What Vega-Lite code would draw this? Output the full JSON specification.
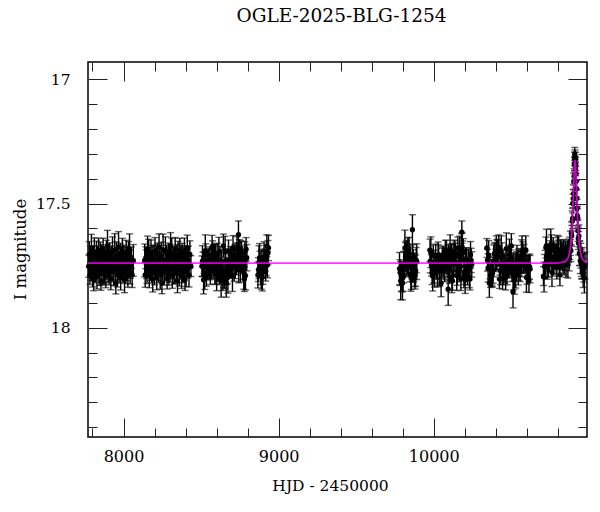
{
"$schema": "https://vega.github.io/schema/vega-lite/v6.json",
"width": 499, "height": 375,
"autosize": {"type": "none"},
"padding": {"left": 88, "top": 62, "right": 13, "bottom": 75},
"background": "white",
"title": {"text": "OGLE-2025-BLG-1254", "font": "DejaVu Serif", "fontSize": 18.5, "fontWeight": "normal", "color": "black", "frame": "group", "anchor": "middle", "baseline": "alphabetic", "offset": 21, "dx": 4},
"config": {"view": {"stroke": "black", "strokeWidth": 1.5}, "axis": {"domain": false, "grid": false, "tickColor": "#222", "tickWidth": 1, "labelFont": "DejaVu Serif", "labelColor": "black", "titleFont": "DejaVu Serif", "titleColor": "black", "titleFontWeight": "normal"}},
"resolve": {"axis": {"x": "independent", "y": "independent"}},
"datasets": {
"obs": [
{"t":7776.2,"m":17.752,"e":0.045},{"t":7779.1,"m":17.705,"e":0.052},{"t":7783.4,"m":17.788,"e":0.038},{"t":7786.0,"m":17.732,"e":0.060},{"t":7790.3,"m":17.762,"e":0.048},{"t":7793.1,"m":17.679,"e":0.055},{"t":7797.6,"m":17.745,"e":0.042},{"t":7800.2,"m":17.770,"e":0.066},{"t":7804.5,"m":17.721,"e":0.050},{"t":7807.3,"m":17.807,"e":0.044},
{"t":7811.8,"m":17.696,"e":0.058},{"t":7814.4,"m":17.755,"e":0.047},{"t":7818.0,"m":17.738,"e":0.053},{"t":7821.7,"m":17.778,"e":0.041},{"t":7825.2,"m":17.713,"e":0.062},{"t":7828.9,"m":17.795,"e":0.049},{"t":7832.1,"m":17.728,"e":0.057},{"t":7836.5,"m":17.749,"e":0.043},{"t":7839.3,"m":17.690,"e":0.051},{"t":7843.0,"m":17.766,"e":0.064},
{"t":7846.8,"m":17.743,"e":0.045},{"t":7850.1,"m":17.707,"e":0.052},{"t":7854.4,"m":17.811,"e":0.038},{"t":7857.2,"m":17.725,"e":0.060},{"t":7861.0,"m":17.781,"e":0.048},{"t":7864.6,"m":17.734,"e":0.055},{"t":7868.3,"m":17.682,"e":0.042},{"t":7871.5,"m":17.759,"e":0.066},{"t":7875.9,"m":17.773,"e":0.050},{"t":7878.4,"m":17.716,"e":0.044},
{"t":7882.7,"m":17.747,"e":0.058},{"t":7886.1,"m":17.792,"e":0.047},{"t":7889.5,"m":17.701,"e":0.053},{"t":7893.2,"m":17.754,"e":0.041},{"t":7896.8,"m":17.670,"e":0.062},{"t":7900.4,"m":17.768,"e":0.049},{"t":7903.9,"m":17.736,"e":0.057},{"t":7907.1,"m":17.785,"e":0.043},{"t":7911.6,"m":17.709,"e":0.051},{"t":7914.3,"m":17.750,"e":0.064},
{"t":7918.2,"m":17.802,"e":0.045},{"t":7921.7,"m":17.723,"e":0.052},{"t":7925.0,"m":17.741,"e":0.038},{"t":7928.8,"m":17.694,"e":0.060},{"t":7932.3,"m":17.764,"e":0.048},{"t":7935.6,"m":17.776,"e":0.055},{"t":7939.4,"m":17.731,"e":0.042},{"t":7942.9,"m":17.687,"e":0.066},{"t":7946.1,"m":17.758,"e":0.050},{"t":7950.5,"m":17.820,"e":0.044},
{"t":7953.2,"m":17.712,"e":0.058},{"t":7957.0,"m":17.746,"e":0.047},{"t":7960.6,"m":17.783,"e":0.053},{"t":7964.1,"m":17.719,"e":0.041},{"t":7967.8,"m":17.675,"e":0.062},{"t":7971.3,"m":17.771,"e":0.049},{"t":7974.7,"m":17.751,"e":0.057},{"t":7978.5,"m":17.703,"e":0.043},{"t":7981.9,"m":17.797,"e":0.051},{"t":7985.2,"m":17.737,"e":0.064},
{"t":7989.0,"m":17.760,"e":0.045},{"t":7992.4,"m":17.692,"e":0.052},{"t":7996.1,"m":17.779,"e":0.038},{"t":7999.5,"m":17.727,"e":0.060},{"t":8003.2,"m":17.742,"e":0.048},{"t":8006.7,"m":17.804,"e":0.055},{"t":8010.1,"m":17.714,"e":0.042},{"t":8013.8,"m":17.756,"e":0.066},{"t":8017.4,"m":17.698,"e":0.050},{"t":8020.9,"m":17.767,"e":0.044},
{"t":8024.3,"m":17.733,"e":0.058},{"t":8028.0,"m":17.790,"e":0.047},{"t":8031.6,"m":17.706,"e":0.053},{"t":8035.2,"m":17.753,"e":0.041},{"t":8038.7,"m":17.684,"e":0.062},{"t":8042.5,"m":17.775,"e":0.049},{"t":8046.0,"m":17.744,"e":0.057},{"t":8050.3,"m":17.718,"e":0.043},{"t":8055.6,"m":17.787,"e":0.051},{"t":8063.1,"m":17.729,"e":0.064},
{"t":8136.4,"m":17.729,"e":0.066},{"t":8139.8,"m":17.787,"e":0.050},{"t":8143.9,"m":17.718,"e":0.044},{"t":8147.5,"m":17.744,"e":0.058},{"t":8151.2,"m":17.775,"e":0.047},{"t":8155.0,"m":17.684,"e":0.053},{"t":8158.6,"m":17.753,"e":0.041},{"t":8162.3,"m":17.706,"e":0.062},{"t":8166.1,"m":17.790,"e":0.049},{"t":8169.7,"m":17.733,"e":0.057},
{"t":8173.6,"m":17.767,"e":0.043},{"t":8177.2,"m":17.698,"e":0.051},{"t":8181.0,"m":17.756,"e":0.064},{"t":8184.5,"m":17.714,"e":0.045},{"t":8188.3,"m":17.804,"e":0.052},{"t":8192.1,"m":17.742,"e":0.038},{"t":8195.8,"m":17.727,"e":0.060},{"t":8199.4,"m":17.779,"e":0.048},{"t":8203.2,"m":17.692,"e":0.055},{"t":8206.9,"m":17.760,"e":0.042},
{"t":8210.7,"m":17.737,"e":0.066},{"t":8214.3,"m":17.797,"e":0.050},{"t":8218.0,"m":17.703,"e":0.044},{"t":8221.8,"m":17.751,"e":0.058},{"t":8225.5,"m":17.771,"e":0.047},{"t":8229.1,"m":17.675,"e":0.053},{"t":8232.9,"m":17.719,"e":0.041},{"t":8236.6,"m":17.783,"e":0.062},{"t":8240.4,"m":17.746,"e":0.049},{"t":8244.0,"m":17.712,"e":0.057},
{"t":8247.7,"m":17.820,"e":0.043},{"t":8251.5,"m":17.758,"e":0.051},{"t":8255.2,"m":17.687,"e":0.064},{"t":8258.9,"m":17.731,"e":0.045},{"t":8262.6,"m":17.776,"e":0.052},{"t":8266.3,"m":17.764,"e":0.038},{"t":8270.1,"m":17.694,"e":0.060},{"t":8273.8,"m":17.741,"e":0.048},{"t":8277.4,"m":17.723,"e":0.055},{"t":8281.2,"m":17.802,"e":0.042},
{"t":8285.0,"m":17.750,"e":0.066},{"t":8288.6,"m":17.709,"e":0.050},{"t":8292.3,"m":17.785,"e":0.044},{"t":8296.1,"m":17.736,"e":0.058},{"t":8299.8,"m":17.768,"e":0.047},{"t":8303.4,"m":17.670,"e":0.053},{"t":8307.2,"m":17.754,"e":0.041},{"t":8310.9,"m":17.701,"e":0.062},{"t":8314.7,"m":17.792,"e":0.049},{"t":8318.3,"m":17.747,"e":0.057},
{"t":8322.0,"m":17.716,"e":0.043},{"t":8325.8,"m":17.773,"e":0.051},{"t":8329.5,"m":17.759,"e":0.064},{"t":8333.1,"m":17.682,"e":0.045},{"t":8336.9,"m":17.734,"e":0.052},{"t":8340.6,"m":17.781,"e":0.038},{"t":8344.4,"m":17.725,"e":0.060},{"t":8348.0,"m":17.811,"e":0.048},{"t":8351.7,"m":17.707,"e":0.055},{"t":8355.5,"m":17.743,"e":0.042},
{"t":8359.2,"m":17.766,"e":0.066},{"t":8362.8,"m":17.690,"e":0.050},{"t":8366.6,"m":17.749,"e":0.044},{"t":8370.3,"m":17.728,"e":0.058},{"t":8374.1,"m":17.795,"e":0.047},{"t":8377.7,"m":17.713,"e":0.053},{"t":8381.4,"m":17.778,"e":0.041},{"t":8385.2,"m":17.738,"e":0.062},{"t":8388.9,"m":17.755,"e":0.049},{"t":8392.5,"m":17.696,"e":0.057},
{"t":8396.3,"m":17.807,"e":0.043},{"t":8400.0,"m":17.721,"e":0.051},{"t":8403.8,"m":17.770,"e":0.064},{"t":8407.4,"m":17.745,"e":0.045},{"t":8411.1,"m":17.679,"e":0.052},{"t":8414.9,"m":17.762,"e":0.038},{"t":8418.6,"m":17.732,"e":0.060},{"t":8422.2,"m":17.788,"e":0.048},{"t":8427.9,"m":17.705,"e":0.055},{"t":8434.5,"m":17.752,"e":0.042},
{"t":8505.3,"m":17.752,"e":0.041},{"t":8508.8,"m":17.732,"e":0.062},{"t":8512.6,"m":17.745,"e":0.049},{"t":8516.1,"m":17.807,"e":0.057},{"t":8519.9,"m":17.738,"e":0.043},{"t":8523.4,"m":17.795,"e":0.051},{"t":8527.1,"m":17.690,"e":0.064},{"t":8530.7,"m":17.707,"e":0.045},{"t":8534.4,"m":17.781,"e":0.052},{"t":8538.0,"m":17.759,"e":0.038},
{"t":8541.7,"m":17.747,"e":0.060},{"t":8545.3,"m":17.754,"e":0.048},{"t":8549.0,"m":17.736,"e":0.055},{"t":8552.6,"m":17.750,"e":0.042},{"t":8556.3,"m":17.741,"e":0.066},{"t":8559.9,"m":17.776,"e":0.050},{"t":8563.6,"m":17.758,"e":0.044},{"t":8567.2,"m":17.746,"e":0.058},{"t":8570.9,"m":17.675,"e":0.047},{"t":8574.5,"m":17.703,"e":0.053},
{"t":8578.2,"m":17.760,"e":0.041},{"t":8581.8,"m":17.727,"e":0.062},{"t":8585.5,"m":17.714,"e":0.049},{"t":8589.1,"m":17.767,"e":0.057},{"t":8592.8,"m":17.706,"e":0.043},{"t":8596.4,"m":17.775,"e":0.051},{"t":8600.1,"m":17.787,"e":0.064},{"t":8603.7,"m":17.705,"e":0.045},{"t":8607.4,"m":17.762,"e":0.052},{"t":8611.0,"m":17.770,"e":0.038},
{"t":8614.7,"m":17.696,"e":0.060},{"t":8618.3,"m":17.778,"e":0.048},{"t":8622.0,"m":17.728,"e":0.055},{"t":8625.6,"m":17.766,"e":0.042},{"t":8629.3,"m":17.811,"e":0.066},{"t":8632.9,"m":17.734,"e":0.050},{"t":8636.6,"m":17.773,"e":0.044},{"t":8640.2,"m":17.792,"e":0.058},{"t":8643.9,"m":17.670,"e":0.047},{"t":8647.5,"m":17.785,"e":0.053},
{"t":8651.2,"m":17.802,"e":0.041},{"t":8654.8,"m":17.694,"e":0.062},{"t":8658.5,"m":17.731,"e":0.049},{"t":8662.1,"m":17.820,"e":0.057},{"t":8665.8,"m":17.783,"e":0.043},{"t":8669.4,"m":17.771,"e":0.051},{"t":8673.1,"m":17.797,"e":0.064},{"t":8676.7,"m":17.692,"e":0.045},{"t":8680.4,"m":17.742,"e":0.052},{"t":8684.0,"m":17.756,"e":0.038},
{"t":8687.7,"m":17.733,"e":0.060},{"t":8691.3,"m":17.753,"e":0.048},{"t":8695.0,"m":17.744,"e":0.055},{"t":8698.6,"m":17.729,"e":0.042},{"t":8702.3,"m":17.788,"e":0.066},{"t":8705.9,"m":17.679,"e":0.050},{"t":8709.6,"m":17.721,"e":0.044},{"t":8713.2,"m":17.755,"e":0.058},{"t":8716.9,"m":17.713,"e":0.047},{"t":8720.5,"m":17.749,"e":0.053},
{"t":8724.2,"m":17.743,"e":0.041},{"t":8727.8,"m":17.725,"e":0.062},{"t":8731.5,"m":17.682,"e":0.049},{"t":8735.1,"m":17.716,"e":0.057},{"t":8738.8,"m":17.701,"e":0.043},{"t":8742.4,"m":17.768,"e":0.051},{"t":8746.1,"m":17.709,"e":0.064},{"t":8749.7,"m":17.723,"e":0.045},{"t":8753.4,"m":17.764,"e":0.052},{"t":8757.0,"m":17.687,"e":0.038},
{"t":8760.7,"m":17.712,"e":0.060},{"t":8764.3,"m":17.719,"e":0.048},{"t":8768.0,"m":17.751,"e":0.055},{"t":8771.6,"m":17.737,"e":0.042},{"t":8775.3,"m":17.779,"e":0.066},{"t":8778.9,"m":17.804,"e":0.050},{"t":8782.6,"m":17.698,"e":0.044},{"t":8786.2,"m":17.790,"e":0.058},{"t":8790.1,"m":17.684,"e":0.047},{"t":8794.6,"m":17.718,"e":0.053},
{"t":8741.0,"m":17.625,"e":0.055},
{"t":8866.2,"m":17.788,"e":0.052},{"t":8869.8,"m":17.766,"e":0.048},{"t":8873.5,"m":17.736,"e":0.066},{"t":8877.1,"m":17.719,"e":0.058},{"t":8880.6,"m":17.733,"e":0.041},{"t":8884.3,"m":17.770,"e":0.057},{"t":8887.9,"m":17.781,"e":0.064},{"t":8891.4,"m":17.723,"e":0.038},{"t":8895.0,"m":17.797,"e":0.055},{"t":8898.7,"m":17.775,"e":0.050},
{"t":8902.3,"m":17.738,"e":0.047},{"t":8905.8,"m":17.716,"e":0.062},{"t":8909.4,"m":17.731,"e":0.043},{"t":8913.1,"m":17.727,"e":0.045},{"t":8916.7,"m":17.752,"e":0.060},{"t":8920.2,"m":17.749,"e":0.042},{"t":8923.8,"m":17.670,"e":0.044},{"t":8927.5,"m":17.746,"e":0.053},{"t":8931.1,"m":17.698,"e":0.049},{"t":8934.6,"m":17.679,"e":0.051},
{"t":9779.4,"m":17.762,"e":0.065},{"t":9783.1,"m":17.778,"e":0.052},{"t":9787.0,"m":17.811,"e":0.076},{"t":9790.8,"m":17.792,"e":0.060},{"t":9794.7,"m":17.802,"e":0.054},{"t":9798.5,"m":17.820,"e":0.068},{"t":9802.4,"m":17.797,"e":0.057},{"t":9806.2,"m":17.756,"e":0.063},{"t":9810.1,"m":17.744,"e":0.051},{"t":9813.9,"m":17.679,"e":0.072},
{"t":9817.8,"m":17.713,"e":0.059},{"t":9821.6,"m":17.725,"e":0.067},{"t":9825.5,"m":17.701,"e":0.053},{"t":9829.3,"m":17.723,"e":0.061},{"t":9833.2,"m":17.712,"e":0.074},{"t":9837.0,"m":17.737,"e":0.055},{"t":9840.9,"m":17.698,"e":0.062},{"t":9844.7,"m":17.718,"e":0.048},{"t":9848.6,"m":17.745,"e":0.070},{"t":9852.4,"m":17.795,"e":0.058},
{"t":9856.3,"m":17.781,"e":0.065},{"t":9860.1,"m":17.754,"e":0.052},{"t":9864.0,"m":17.741,"e":0.076},{"t":9867.8,"m":17.746,"e":0.060},{"t":9871.7,"m":17.760,"e":0.054},{"t":9875.5,"m":17.767,"e":0.068},{"t":9879.4,"m":17.787,"e":0.057},{"t":9883.2,"m":17.770,"e":0.063},{"t":9887.1,"m":17.728,"e":0.051},{"t":9890.9,"m":17.734,"e":0.072},
{"t":9862.5,"m":17.605,"e":0.060},
{"t":9976.0,"m":17.688,"e":0.045},
{"t":9977.5,"m":17.732,"e":0.047},{"t":9981.4,"m":17.696,"e":0.062},{"t":9985.3,"m":17.749,"e":0.043},{"t":9989.1,"m":17.781,"e":0.045},{"t":9993.0,"m":17.792,"e":0.060},{"t":9996.9,"m":17.709,"e":0.042},{"t":10000.8,"m":17.776,"e":0.044},{"t":10004.6,"m":17.783,"e":0.053},{"t":10008.5,"m":17.737,"e":0.049},{"t":10012.4,"m":17.714,"e":0.051},
{"t":10016.3,"m":17.753,"e":0.052},{"t":10020.1,"m":17.752,"e":0.048},{"t":10024.0,"m":17.770,"e":0.066},{"t":10027.9,"m":17.713,"e":0.058},{"t":10031.8,"m":17.707,"e":0.041},{"t":10035.6,"m":17.773,"e":0.057},{"t":10039.5,"m":17.768,"e":0.064},{"t":10043.4,"m":17.741,"e":0.038},{"t":10047.3,"m":17.820,"e":0.055},{"t":10051.1,"m":17.751,"e":0.050},
{"t":10055.0,"m":17.727,"e":0.047},{"t":10058.9,"m":17.733,"e":0.062},{"t":10062.8,"m":17.718,"e":0.043},{"t":10066.6,"m":17.762,"e":0.045},{"t":10070.5,"m":17.755,"e":0.060},{"t":10074.4,"m":17.690,"e":0.042},{"t":10078.3,"m":17.734,"e":0.044},{"t":10082.1,"m":17.701,"e":0.053},{"t":10086.0,"m":17.750,"e":0.049},{"t":10089.9,"m":17.731,"e":0.051},
{"t":10093.8,"m":17.719,"e":0.052},{"t":10097.6,"m":17.760,"e":0.048},{"t":10101.5,"m":17.756,"e":0.066},{"t":10105.4,"m":17.684,"e":0.058},{"t":10109.3,"m":17.705,"e":0.041},{"t":10113.1,"m":17.721,"e":0.057},{"t":10117.0,"m":17.795,"e":0.064},{"t":10120.9,"m":17.811,"e":0.038},{"t":10124.8,"m":17.716,"e":0.055},{"t":10128.6,"m":17.736,"e":0.050},
{"t":10132.5,"m":17.694,"e":0.047},{"t":10136.4,"m":17.712,"e":0.062},{"t":10140.3,"m":17.703,"e":0.043},{"t":10144.1,"m":17.742,"e":0.045},{"t":10148.0,"m":17.790,"e":0.060},{"t":10151.9,"m":17.787,"e":0.042},{"t":10155.8,"m":17.679,"e":0.044},{"t":10159.6,"m":17.738,"e":0.053},{"t":10163.5,"m":17.766,"e":0.049},{"t":10167.4,"m":17.682,"e":0.051},
{"t":10171.3,"m":17.754,"e":0.052},{"t":10175.1,"m":17.802,"e":0.048},{"t":10179.0,"m":17.687,"e":0.066},{"t":10182.9,"m":17.675,"e":0.058},{"t":10186.8,"m":17.692,"e":0.041},{"t":10190.6,"m":17.698,"e":0.057},{"t":10194.5,"m":17.775,"e":0.064},{"t":10198.4,"m":17.788,"e":0.038},{"t":10202.3,"m":17.807,"e":0.055},{"t":10206.1,"m":17.728,"e":0.050},
{"t":10210.0,"m":17.725,"e":0.047},{"t":10213.9,"m":17.747,"e":0.062},{"t":10217.8,"m":17.785,"e":0.043},{"t":10221.6,"m":17.764,"e":0.045},{"t":10225.5,"m":17.746,"e":0.060},{"t":10229.4,"m":17.797,"e":0.042},{"t":10233.3,"m":17.804,"e":0.044},{"t":10237.1,"m":17.706,"e":0.053},{"t":10241.0,"m":17.729,"e":0.049},{"t":10244.9,"m":17.745,"e":0.051},
{"t":10181.0,"m":17.615,"e":0.045},{"t":10093.0,"m":17.845,"e":0.065},
{"t":10342.3,"m":17.679,"e":0.038},{"t":10346.4,"m":17.728,"e":0.044},{"t":10350.4,"m":17.759,"e":0.057},{"t":10354.5,"m":17.709,"e":0.060},{"t":10358.5,"m":17.820,"e":0.058},{"t":10362.6,"m":17.760,"e":0.043},{"t":10366.6,"m":17.790,"e":0.048},{"t":10370.7,"m":17.788,"e":0.047},{"t":10374.7,"m":17.778,"e":0.051},{"t":10378.8,"m":17.781,"e":0.055},
{"t":10382.8,"m":17.768,"e":0.053},{"t":10386.9,"m":17.731,"e":0.064},{"t":10390.9,"m":17.703,"e":0.042},{"t":10395.0,"m":17.698,"e":0.041},{"t":10399.0,"m":17.729,"e":0.045},{"t":10403.1,"m":17.696,"e":0.066},{"t":10407.1,"m":17.707,"e":0.062},{"t":10411.2,"m":17.701,"e":0.052},{"t":10415.2,"m":17.694,"e":0.050},{"t":10419.3,"m":17.675,"e":0.049},
{"t":10423.3,"m":17.804,"e":0.038},{"t":10427.4,"m":17.744,"e":0.044},{"t":10431.4,"m":17.770,"e":0.057},{"t":10435.5,"m":17.690,"e":0.060},{"t":10439.5,"m":17.716,"e":0.058},{"t":10443.6,"m":17.802,"e":0.043},{"t":10447.6,"m":17.746,"e":0.048},{"t":10451.7,"m":17.779,"e":0.047},{"t":10455.7,"m":17.753,"e":0.051},{"t":10459.8,"m":17.762,"e":0.055},
{"t":10463.8,"m":17.795,"e":0.053},{"t":10467.9,"m":17.682,"e":0.064},{"t":10471.9,"m":17.785,"e":0.042},{"t":10476.0,"m":17.758,"e":0.041},{"t":10480.0,"m":17.737,"e":0.045},{"t":10484.1,"m":17.733,"e":0.066},{"t":10488.1,"m":17.705,"e":0.062},{"t":10492.2,"m":17.738,"e":0.052},{"t":10496.2,"m":17.725,"e":0.050},{"t":10500.3,"m":17.670,"e":0.049},
{"t":10504.3,"m":17.776,"e":0.038},{"t":10508.4,"m":17.751,"e":0.044},{"t":10512.4,"m":17.756,"e":0.057},{"t":10516.5,"m":17.787,"e":0.060},{"t":10520.5,"m":17.807,"e":0.058},{"t":10524.6,"m":17.743,"e":0.043},{"t":10528.6,"m":17.792,"e":0.048},{"t":10532.7,"m":17.741,"e":0.047},{"t":10536.7,"m":17.719,"e":0.051},{"t":10540.8,"m":17.742,"e":0.055},
{"t":10544.8,"m":17.775,"e":0.053},{"t":10548.9,"m":17.745,"e":0.064},{"t":10552.9,"m":17.749,"e":0.042},{"t":10557.0,"m":17.773,"e":0.041},{"t":10561.0,"m":17.750,"e":0.045},{"t":10565.1,"m":17.712,"e":0.066},{"t":10569.1,"m":17.692,"e":0.062},{"t":10573.2,"m":17.706,"e":0.052},{"t":10577.2,"m":17.732,"e":0.050},{"t":10581.3,"m":17.713,"e":0.049},
{"t":10585.3,"m":17.734,"e":0.038},{"t":10589.4,"m":17.736,"e":0.044},{"t":10593.4,"m":17.687,"e":0.057},{"t":10597.5,"m":17.797,"e":0.060},{"t":10601.5,"m":17.767,"e":0.058},{"t":10605.6,"m":17.752,"e":0.043},{"t":10609.6,"m":17.755,"e":0.048},{"t":10613.7,"m":17.811,"e":0.047},{"t":10617.7,"m":17.754,"e":0.051},{"t":10621.0,"m":17.764,"e":0.055},
{"t":10511.0,"m":17.855,"e":0.065},
{"t":10707.2,"m":17.792,"e":0.038},{"t":10711.1,"m":17.796,"e":0.060},{"t":10715.0,"m":17.753,"e":0.048},{"t":10719.0,"m":17.743,"e":0.055},{"t":10722.9,"m":17.677,"e":0.042},{"t":10726.8,"m":17.669,"e":0.066},{"t":10730.8,"m":17.755,"e":0.050},{"t":10734.7,"m":17.728,"e":0.044},{"t":10738.6,"m":17.739,"e":0.058},{"t":10742.6,"m":17.716,"e":0.047},
{"t":10746.5,"m":17.722,"e":0.053},{"t":10750.4,"m":17.691,"e":0.041},{"t":10754.4,"m":17.664,"e":0.062},{"t":10758.3,"m":17.675,"e":0.049},{"t":10762.2,"m":17.777,"e":0.057},{"t":10766.2,"m":17.749,"e":0.043},{"t":10770.1,"m":17.688,"e":0.051},{"t":10774.0,"m":17.718,"e":0.064},{"t":10778.0,"m":17.717,"e":0.045},{"t":10781.9,"m":17.713,"e":0.052},
{"t":10785.8,"m":17.701,"e":0.038},{"t":10789.8,"m":17.726,"e":0.060},{"t":10793.7,"m":17.756,"e":0.048},{"t":10797.6,"m":17.683,"e":0.055},{"t":10801.6,"m":17.690,"e":0.042},{"t":10805.5,"m":17.698,"e":0.066},{"t":10809.4,"m":17.744,"e":0.050},{"t":10813.4,"m":17.787,"e":0.044},{"t":10817.3,"m":17.704,"e":0.058},{"t":10821.2,"m":17.699,"e":0.047},
{"t":10825.2,"m":17.714,"e":0.053},{"t":10829.1,"m":17.723,"e":0.041},{"t":10833.0,"m":17.719,"e":0.062},{"t":10837.0,"m":17.694,"e":0.049},{"t":10840.9,"m":17.731,"e":0.057},
{"t":10845.0,"m":17.720,"e":0.050},{"t":10849.0,"m":17.700,"e":0.048},{"t":10853.0,"m":17.745,"e":0.052},{"t":10857.0,"m":17.710,"e":0.046},{"t":10861.0,"m":17.700,"e":0.050},{"t":10865.0,"m":17.745,"e":0.055},{"t":10869.0,"m":17.690,"e":0.047},{"t":10873.0,"m":17.720,"e":0.051},{"t":10877.0,"m":17.680,"e":0.045},{"t":10881.0,"m":17.660,"e":0.049},
{"t":10884.0,"m":17.690,"e":0.044},{"t":10887.0,"m":17.620,"e":0.046},{"t":10890.0,"m":17.630,"e":0.042},{"t":10893.0,"m":17.570,"e":0.040},{"t":10895.0,"m":17.560,"e":0.041},{"t":10897.0,"m":17.500,"e":0.038},{"t":10899.0,"m":17.480,"e":0.036},{"t":10901.0,"m":17.460,"e":0.035},{"t":10903.0,"m":17.410,"e":0.033},{"t":10905.0,"m":17.390,"e":0.030},
{"t":10907.0,"m":17.340,"e":0.028},{"t":10908.0,"m":17.320,"e":0.027},{"t":10909.0,"m":17.300,"e":0.026},{"t":10910.0,"m":17.340,"e":0.027},{"t":10911.0,"m":17.310,"e":0.026},{"t":10912.0,"m":17.350,"e":0.027},{"t":10913.0,"m":17.320,"e":0.026},{"t":10914.0,"m":17.360,"e":0.028},{"t":10915.0,"m":17.340,"e":0.027},{"t":10916.5,"m":17.380,"e":0.029},
{"t":10918.0,"m":17.410,"e":0.031},{"t":10920.0,"m":17.440,"e":0.033},{"t":10922.0,"m":17.480,"e":0.035},{"t":10924.0,"m":17.520,"e":0.037},{"t":10926.0,"m":17.550,"e":0.039},{"t":10928.0,"m":17.560,"e":0.040},{"t":10930.0,"m":17.610,"e":0.043},{"t":10932.0,"m":17.640,"e":0.045},{"t":10934.0,"m":17.660,"e":0.047},{"t":10936.0,"m":17.630,"e":0.044},
{"t":10939.0,"m":17.700,"e":0.050},{"t":10942.0,"m":17.700,"e":0.049},{"t":10945.0,"m":17.730,"e":0.052},{"t":10948.0,"m":17.710,"e":0.050},{"t":10951.0,"m":17.740,"e":0.054},{"t":10955.0,"m":17.750,"e":0.055},{"t":10959.0,"m":17.730,"e":0.052},{"t":10963.0,"m":17.780,"e":0.058},{"t":10967.0,"m":17.760,"e":0.056},{"t":10971.0,"m":17.800,"e":0.060},{"t":10975.0,"m":17.750,"e":0.054}
],
"model": [
{"t":7771,"m":17.74},{"t":10700,"m":17.74},{"t":10791,"m":17.7395},{"t":10841,"m":17.735},{"t":10861,"m":17.7245},{"t":10871,"m":17.710},{"t":10881,"m":17.677},{"t":10886,"m":17.647},{"t":10891,"m":17.601},{"t":10893.5,"m":17.571},{"t":10896,"m":17.535},{"t":10899,"m":17.485},{"t":10901,"m":17.450},{"t":10903,"m":17.4135},{"t":10905,"m":17.380},{"t":10907,"m":17.352},{"t":10908,"m":17.341},{"t":10909,"m":17.333},{"t":10911,"m":17.327},{"t":10913,"m":17.333},{"t":10914,"m":17.341},{"t":10915,"m":17.352},{"t":10917,"m":17.380},{"t":10919,"m":17.4135},{"t":10921,"m":17.450},{"t":10923,"m":17.485},{"t":10926,"m":17.535},{"t":10928.5,"m":17.571},{"t":10931,"m":17.601},{"t":10936,"m":17.647},{"t":10941,"m":17.677},{"t":10951,"m":17.710},{"t":10961,"m":17.7245},{"t":10981,"m":17.735},{"t":10988,"m":17.736}
]
},
"layer": [
{"data": {"name": "obs"},
 "mark": {"type": "errorbar", "ticks": {"size": 7, "color": "#222222"}, "color": "#000000", "thickness": 1.4},
 "encoding": {
  "x": {"field": "t", "type": "quantitative", "scale": {"domain": [7771, 10988], "nice": false, "zero": false}, "axis": null},
  "y": {"field": "m", "type": "quantitative", "scale": {"domain": [16.93, 18.44], "nice": false, "zero": false, "reverse": true}, "axis": null},
  "yError": {"field": "e"}
 }},
{"data": {"name": "obs"},
 "mark": {"type": "circle", "size": 28, "color": "black", "opacity": 1},
 "encoding": {
  "x": {"field": "t", "type": "quantitative", "scale": {"domain": [7771, 10988], "nice": false, "zero": false},
   "axis": {"orient": "bottom", "values": [8000, 9000, 10000], "tickSize": -19, "labelPadding": 30, "labelFontSize": 16, "labelExpr": "'' + datum.value", "labelFlush": false, "title": "HJD - 2450000", "titleFontSize": 15.5, "titleX": 242, "titleY": 53, "titleBaseline": "alphabetic", "titleAlign": "center", "titleAnchor": null}},
  "y": {"field": "m", "type": "quantitative", "scale": {"domain": [16.93, 18.44], "nice": false, "zero": false, "reverse": true},
   "axis": {"orient": "left", "values": [17, 17.5, 18], "tickSize": -19, "labelPadding": 37, "labelFontSize": 15.5, "labelExpr": "'' + datum.value", "labelFlush": false, "title": "I magnitude", "titleFontSize": 16.5, "titleX": -63, "titleY": 187, "titleAngle": -90, "titleBaseline": "alphabetic", "titleAlign": "center"}}
 }},
{"data": {"name": "model"},
 "mark": {"type": "line", "color": "#ff00ff", "strokeWidth": 1.8, "interpolate": "monotone", "opacity": 0.8},
 "encoding": {
  "x": {"field": "t", "type": "quantitative", "scale": {"domain": [7771, 10988], "nice": false, "zero": false},
   "axis": {"orient": "top", "values": [8000, 9000, 10000], "tickSize": -19, "labels": false, "title": null}},
  "y": {"field": "m", "type": "quantitative", "scale": {"domain": [16.93, 18.44], "nice": false, "zero": false, "reverse": true},
   "axis": {"orient": "right", "values": [17, 17.5, 18], "tickSize": -19, "labels": false, "title": null}}
 }},
{"data": {"name": "model"},
 "mark": {"type": "line", "opacity": 0},
 "encoding": {
  "x": {"field": "t", "type": "quantitative", "scale": {"domain": [7771, 10988], "nice": false, "zero": false},
   "axis": {"orient": "bottom", "values": [7800, 8200, 8400, 8600, 8800, 9200, 9400, 9600, 9800, 10200, 10400, 10600, 10800], "tickSize": -9, "labels": false, "title": null}},
  "y": {"field": "m", "type": "quantitative", "scale": {"domain": [16.93, 18.44], "nice": false, "zero": false, "reverse": true},
   "axis": {"orient": "left", "values": [17.1, 17.2, 17.3, 17.4, 17.6, 17.7, 17.8, 17.9, 18.1, 18.2, 18.3, 18.4], "tickSize": -9, "labels": false, "title": null}}
 }},
{"data": {"name": "model"},
 "mark": {"type": "line", "opacity": 0},
 "encoding": {
  "x": {"field": "t", "type": "quantitative", "scale": {"domain": [7771, 10988], "nice": false, "zero": false},
   "axis": {"orient": "top", "values": [7800, 8200, 8400, 8600, 8800, 9200, 9400, 9600, 9800, 10200, 10400, 10600, 10800], "tickSize": -9, "labels": false, "title": null}},
  "y": {"field": "m", "type": "quantitative", "scale": {"domain": [16.93, 18.44], "nice": false, "zero": false, "reverse": true},
   "axis": {"orient": "right", "values": [17.1, 17.2, 17.3, 17.4, 17.6, 17.7, 17.8, 17.9, 18.1, 18.2, 18.3, 18.4], "tickSize": -9, "labels": false, "title": null}}
 }}
]
}
